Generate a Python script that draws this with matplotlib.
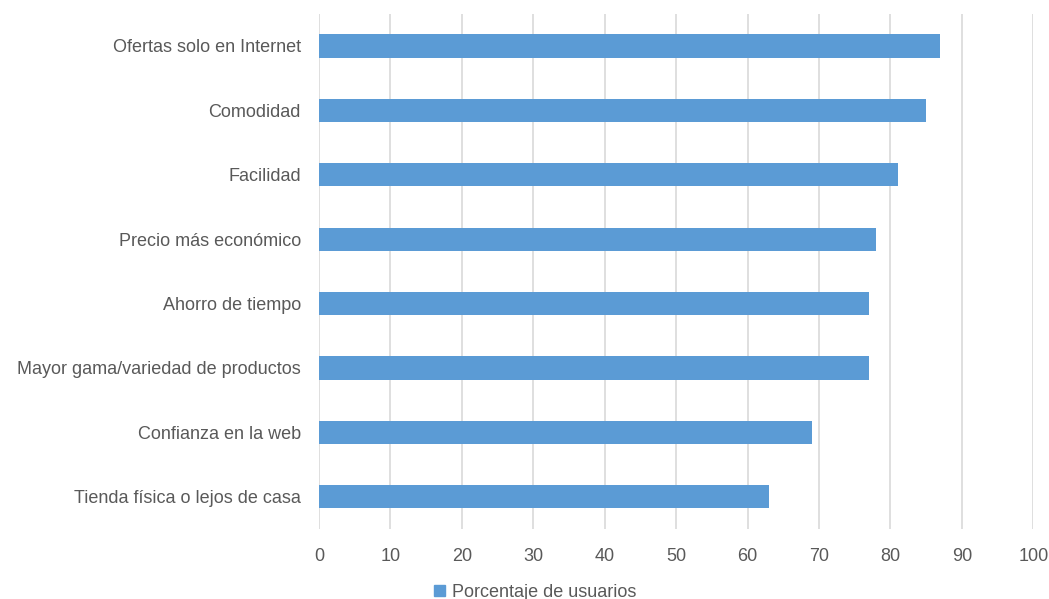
import matplotlib.pyplot as plt
from matplotlib.patches import Patch

categorias = ['Tienda física o lejos de casa', 'Confianza en la web',
              'Mayor gama/variedad de productos', 'Ahorro de tiempo',
              'Precio más económico', 'Facilidad', 'Comodidad',
              'Ofertas solo en Internet']
porcentajes = [63, 69, 77, 77, 78, 81, 85, 87]
serie = 'Porcentaje de usuarios'
ticks_x = list(range(0, 101, 10))

plt.rcParams['font.family'] = ['Liberation Sans Narrow', 'Liberation Sans', 'DejaVu Sans']

fig = plt.figure(figsize=(10.49, 5.99), dpi=100)
ax = fig.add_axes([0.304, 0.117, 0.681, 0.86])

color = '#5B9BD5'
ax.barh(categorias, porcentajes, height=0.36, color=color, zorder=3)

ax.set_xlim(0, 100)
ax.set_ylim(-0.5, len(categorias) - 0.5)
ax.set_xticks(ticks_x)
ax.grid(axis='x', color='#d9d9d9', linewidth=1.2, zorder=0)
for s in ax.spines.values():
    s.set_visible(False)
ax.tick_params(axis='both', length=0, colors='#595959', labelsize=13)
ax.tick_params(axis='x', pad=14)
ax.tick_params(axis='y', pad=13)

# leyenda centrada bajo el eje
fig.legend(handles=[Patch(color=color, label=serie)], loc='lower center',
           bbox_to_anchor=(0.51, -0.03), frameon=False, fontsize=13,
           handlelength=0.6, handleheight=0.6, handletextpad=0.4, labelcolor='#595959')

fig.savefig('out.png', dpi=100)
